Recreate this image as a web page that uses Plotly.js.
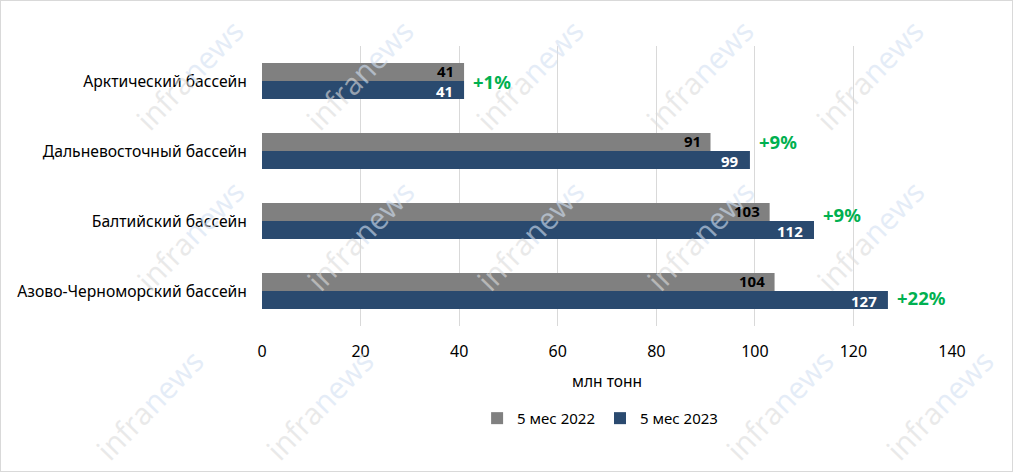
<!DOCTYPE html>
<html>
<head>
<meta charset="utf-8">
<script src="https://cdn.plot.ly/plotly-3.0.1.min.js"></script>
<style>
html,body{margin:0;padding:0;background:#fff;}
#wrap{position:relative;width:1013px;height:472px;}
#chart{width:1013px;height:472px;}
#border{position:absolute;left:0;top:0;width:1011px;height:470px;border:1px solid #d9d9d9;pointer-events:none;}
</style>
</head>
<body>
<div id="wrap"><div id="chart"></div><div id="border"></div></div>
<script>
const categories = ['Арктический бассейн','Дальневосточный бассейн','Балтийский бассейн','Азово-Черноморский бассейн'];
const seriesNames = ['5 мес 2022','5 мес 2023'];
const values2022 = [41, 91, 103, 104];
const values2023 = [41, 99, 112, 127];
const changeLabels = ['+1%','+9%','+9%','+22%'];
const xTicks = [0,20,40,60,80,100,120,140];

const FONT = 'Noto Sans, Open Sans, sans-serif';
const BARGAP = 0.486;
const HALF = (1 - BARGAP) / 4; // centre offset of each bar within a category

const traces = [
  {type:'bar', orientation:'h', name:seriesNames[0], y:categories, x:values2022,
   marker:{color:'#808080'}, hoverinfo:'x'},
  {type:'bar', orientation:'h', name:seriesNames[1], y:categories, x:values2023,
   marker:{color:'#2a4a6f'}, hoverinfo:'x'}
];

const annotations = [];
// value labels, inside the end of each bar
categories.forEach((c,i)=>{
  annotations.push({x:values2022[i], y:i - HALF, xref:'x', yref:'y', text:'<b>'+values2022[i]+'</b>',
    showarrow:false, xanchor:'right', yanchor:'middle', xshift:-9, yshift:1, borderpad:0,
    font:{family:FONT, size:15, color:'#000'}});
  annotations.push({x:values2023[i], y:i + HALF, xref:'x', yref:'y', text:'<b>'+values2023[i]+'</b>',
    showarrow:false, xanchor:'right', yanchor:'middle', xshift:-10, yshift:-1, borderpad:0,
    font:{family:FONT, size:15, color:'#fff'}});
});

// change labels; vertical offset in category units
const labelShift = [0, -0.14, -0.1, 0.09];
categories.forEach((c,i)=>{
  annotations.push({x: values2023[i] + 1.4, y: i + labelShift[i], xref:'x', yref:'y',
    text: '<b>'+changeLabels[i]+'</b>', showarrow:false, xanchor:'left', yanchor:'middle',
    font:{family:FONT, size:18.5, color:'#00b050'}});
});

// watermark (decorative)
const wmText = "<span style='color:#dcdcdc'>infra</span><span style='color:#d3e1f3'>news</span>";
const wmRows = [
  {py:75,  xs:[190, 360, 530, 700, 870]},
  {py:235, xs:[190, 360, 530, 700, 870]},
  {py:405, xs:[150, 320, 780, 940]}
];
const wm = [];
wmRows.forEach(r=>r.xs.forEach(px=>{
  wm.push({xref:'paper', yref:'paper', x:(px-262)/690, y:(326-r.py)/280, text:wmText,
    showarrow:false, textangle:-46, font:{family:'Open Sans, sans-serif', size:30}, opacity:0.6,
    xanchor:'center', yanchor:'middle'});
}));

const layout = {
  width:1013, height:472,
  margin:{l:262, r:61, t:46, b:146},
  paper_bgcolor:'#fff', plot_bgcolor:'#fff',
  barmode:'group', bargap:BARGAP, bargroupgap:0,
  font:{family:FONT, size:15, color:'#000'},
  xaxis:{range:[0,140], tickvals:xTicks, ticktext:xTicks.map(String), showgrid:true, gridcolor:'#d9d9d9', gridwidth:1,
         zeroline:false, showline:false, ticks:'', ticklabelstandoff:14,
         tickfont:{family:FONT, size:16, color:'#000'},
         title:{text:'млн тонн', font:{family:FONT, size:15.5, color:'#000'}, standoff:15}},
  yaxis:{autorange:'reversed', type:'category', showgrid:false, zeroline:false, showline:false, ticks:'',
         ticklabelstandoff:14, tickfont:{family:FONT, size:15.7, color:'#000'}},
  showlegend:true,
  legend:{orientation:'h', x:0.49, xanchor:'center', y:-0.33, yanchor:'middle', traceorder:'normal',
          font:{family:FONT, size:15, color:'#000'}, itemwidth:30},
  annotations: wm.concat(annotations)
};

Plotly.newPlot('chart', traces, layout, {displayModeBar:false, staticPlot:true});
</script>
</body>
</html>
